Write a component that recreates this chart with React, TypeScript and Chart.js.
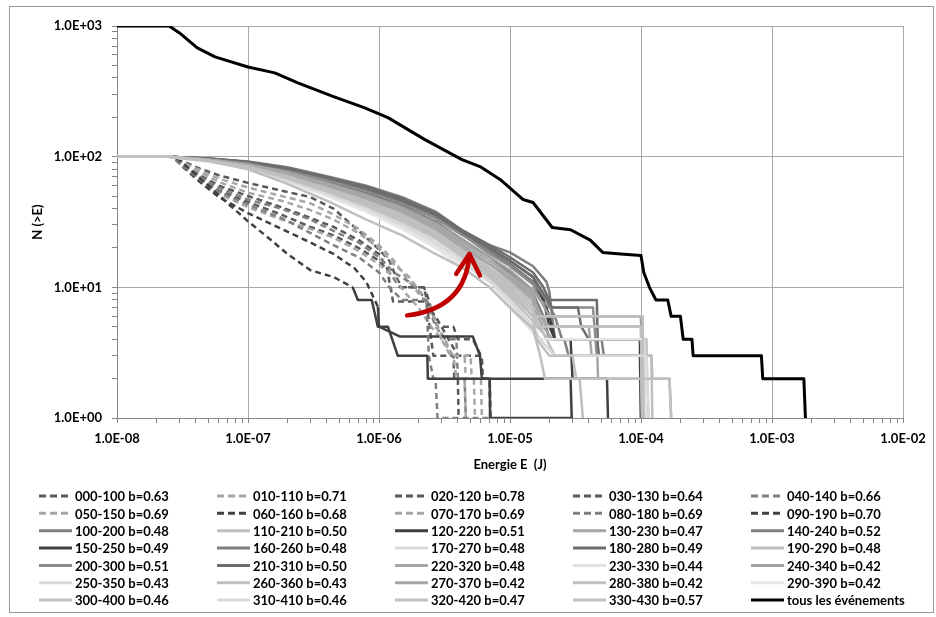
import React, { useEffect, useRef } from 'react';
import { Chart, registerables } from 'chart.js';

Chart.register(...registerables);

// ---------- axis ticks ----------
const X_DECADES = [1e-8, 1e-7, 1e-6, 1e-5, 1e-4, 1e-3, 1e-2];
const X_TICK_LABELS = ['1.0E-08', '1.0E-07', '1.0E-06', '1.0E-05', '1.0E-04', '1.0E-03', '1.0E-02'];
const Y_DECADES = [1, 10, 100, 1000];
const Y_TICK_LABELS = ['1.0E+00', '1.0E+01', '1.0E+02', '1.0E+03'];

const X_TITLE = 'Energie E  (J)';
const Y_TITLE = 'N (>E)';

// ---------- series labels (legend order) ----------
const SERIES_LABELS = [
  '000-100 b=0.63', '010-110 b=0.71', '020-120 b=0.78', '030-130 b=0.64', '040-140 b=0.66',
  '050-150 b=0.69', '060-160 b=0.68', '070-170 b=0.69', '080-180 b=0.69', '090-190 b=0.70',
  '100-200 b=0.48', '110-210 b=0.50', '120-220 b=0.51', '130-230 b=0.47', '140-240 b=0.52',
  '150-250 b=0.49', '160-260 b=0.48', '170-270 b=0.48', '180-280 b=0.49', '190-290 b=0.48',
  '200-300 b=0.51', '210-310 b=0.50', '220-320 b=0.48', '230-330 b=0.44', '240-340 b=0.42',
  '250-350 b=0.43', '260-360 b=0.43', '270-370 b=0.42', '280-380 b=0.42', '290-390 b=0.42',
  '300-400 b=0.46', '310-410 b=0.46', '320-420 b=0.47', '330-430 b=0.57', 'tous les événements',
];

// ---------- dashed windows: [E (J), N(>E)] ----------
const D000 = [[1e-8, 100], [2.5e-8, 100], [3.2e-8, 92], [4.3e-8, 81], [6e-8, 72], [1e-7, 63], [1.8e-7, 55], [3e-7, 49], [4.5e-7, 40], [6e-7, 31], [8e-7, 24], [1e-6, 19.5], [1.2e-6, 16], [1.35e-6, 12], [1.5e-6, 10], [2.2e-6, 10], [2.35e-6, 8.5], [2.6e-6, 6], [2.8e-6, 5], [3.7e-6, 5], [4e-6, 4], [5.2e-6, 4], [6e-6, 3], [6.1e-6, 2], [7e-6, 2], [7.1e-6, 1]];
const D010 = [[1e-8, 100], [2.5e-8, 100], [3.2e-8, 90], [4.3e-8, 79], [6e-8, 68], [1e-7, 58], [1.8e-7, 50], [3e-7, 44], [4.5e-7, 36], [7e-7, 28], [1e-6, 21], [1.3e-6, 16], [1.6e-6, 12], [2e-6, 9], [2.5e-6, 7], [2.8e-6, 5], [3.2e-6, 4], [3.6e-6, 3], [4.5e-6, 3], [4.6e-6, 2], [5.3e-6, 2], [5.4e-6, 1]];
const D020 = [[1e-8, 100], [2.6e-8, 100], [3.2e-8, 87], [4.3e-8, 72], [6e-8, 60], [1e-7, 50], [1.8e-7, 41], [3e-7, 34], [4.5e-7, 29], [7e-7, 23], [1e-6, 18], [1.15e-6, 14], [1.28e-6, 7.8], [2.3e-6, 7.8], [2.4e-6, 5.7], [2.5e-6, 4], [2.6e-6, 3], [3.7e-6, 3], [3.75e-6, 2], [4e-6, 2], [4.05e-6, 1]];
const D030 = [[1e-8, 100], [2.6e-8, 100], [3.2e-8, 85], [4.3e-8, 68], [6e-8, 55], [1e-7, 45], [1.8e-7, 36], [3e-7, 29], [4.5e-7, 25], [7e-7, 20], [1e-6, 16], [1.2e-6, 13], [1.45e-6, 10], [2.2e-6, 10], [2.4e-6, 7], [2.7e-6, 6], [3e-6, 5], [3.4e-6, 4], [4e-6, 3], [6.1e-6, 3], [6.2e-6, 2], [7e-6, 2], [7.05e-6, 1], [7.3e-6, 1]];
const D040 = [[1e-8, 100], [2.7e-8, 100], [3.2e-8, 86], [4.3e-8, 70], [6e-8, 58], [1e-7, 47], [1.8e-7, 40], [3e-7, 33], [4.5e-7, 27], [7e-7, 22], [1e-6, 17], [1.3e-6, 13], [1.7e-6, 11], [2.1e-6, 9], [2.4e-6, 7], [2.7e-6, 5], [3.2e-6, 4], [3.9e-6, 4], [4e-6, 2], [4.5e-6, 2], [4.6e-6, 1]];
const D050 = [[1e-8, 100], [2.6e-8, 100], [3.2e-8, 84], [4.3e-8, 66], [6e-8, 52], [1e-7, 41], [1.8e-7, 33], [3e-7, 28], [4.5e-7, 24], [7e-7, 19], [1e-6, 15], [1.3e-6, 12], [1.6e-6, 9], [2e-6, 7], [2.5e-6, 5], [3e-6, 4], [3.5e-6, 3], [5e-6, 3], [5.1e-6, 2], [6e-6, 2], [6.1e-6, 1]];
const D060 = [[1e-8, 100], [2.7e-8, 100], [3.2e-8, 83], [4.3e-8, 64], [6e-8, 49], [1e-7, 37], [1.8e-7, 28], [3e-7, 22], [4.5e-7, 18], [6.5e-7, 14], [8e-7, 11], [9.8e-7, 7.1], [1e-6, 5], [1.45e-6, 4.2], [5.2e-6, 4.2], [5.9e-6, 3], [6.1e-6, 2], [7e-6, 2], [7.05e-6, 1], [2.96e-5, 1]];
const D070 = [[1e-8, 100], [2.6e-8, 100], [3.2e-8, 88], [4.3e-8, 76], [6e-8, 64], [1e-7, 53], [1.8e-7, 46], [3e-7, 39], [4.5e-7, 33], [7e-7, 26], [1e-6, 20], [1.3e-6, 15], [1.7e-6, 12], [2.1e-6, 9], [2.6e-6, 6], [3e-6, 4], [3.7e-6, 3], [3.9e-6, 2], [4.5e-6, 2], [4.6e-6, 1]];
const D080 = [[1e-8, 100], [2.7e-8, 100], [3.2e-8, 84], [4.3e-8, 67], [6e-8, 54], [1e-7, 43], [1.8e-7, 34], [3e-7, 26], [4.5e-7, 21], [7e-7, 17], [1e-6, 13], [1.2e-6, 10], [1.5e-6, 8], [2.3e-6, 8], [2.35e-6, 5], [2.4e-6, 3], [2.6e-6, 2], [2.7e-6, 2], [2.8e-6, 1], [7e-6, 1]];
const D090 = [[1e-8, 100], [2.8e-8, 100], [3.5e-8, 82], [5e-8, 60], [7e-8, 44], [1e-7, 32], [1.5e-7, 23], [2e-7, 18], [3e-7, 13.5], [4.5e-7, 12], [6.3e-7, 10], [6.9e-7, 8], [8.8e-7, 8], [9.8e-7, 5], [1.17e-6, 5], [1.39e-6, 3], [2.34e-6, 3], [2.36e-6, 2], [2.9e-5, 2], [2.96e-5, 1]];

// ---------- solid windows: N(>E) at shared energies, then tail steps ----------
const SOLID_E = [1e-8, 2.5e-8, 5e-8, 1e-7, 2e-7, 4e-7, 8e-7, 1.5e-6, 2.7e-6, 4.4e-6, 7e-6, 1e-5, 1.5e-5];

const S100_N = [100, 100, 95, 88, 77, 64, 52, 42, 32, 23, 17, 13, 9];
const S100_TAIL = [[1.8e-5, 6], [2e-5, 4], [2.6e-5, 4], [2.8e-5, 3], [9.8e-5, 3], [1e-4, 1]];
const S110_N = [100, 100, 94, 86, 72, 59, 47, 37, 27, 20, 14, 11, 7.5];
const S110_TAIL = [[1.6e-5, 6], [1e-4, 6], [1.05e-4, 1]];
const S120_N = [100, 100, 97, 91, 81, 69, 57, 46, 36, 26, 20, 16, 12];
const S120_TAIL = [[1.8e-5, 8], [2e-5, 5], [2.2e-5, 4], [2.9e-5, 4], [3e-5, 2], [5.5e-5, 2], [5.6e-5, 1]];
const S130_N = [100, 100, 95, 87, 74, 61, 49, 39, 29, 21, 15, 12, 8.5];
const S130_TAIL = [[1.5e-5, 7], [1.8e-5, 5], [2.1e-5, 4], [4.6e-5, 4], [4.7e-5, 2], [1.05e-4, 2], [1.07e-4, 1]];
const S140_N = [100, 100, 97, 92, 83, 71, 60, 49, 38, 27, 21, 18.5, 14.5];
const S140_TAIL = [[1.9e-5, 11], [2e-5, 9.2], [2.1e-5, 6], [2.2e-5, 4], [4.6e-5, 4], [4.8e-5, 3], [1.05e-4, 3], [1.07e-4, 1]];
const S150_N = [100, 100, 96, 90, 79, 66, 54, 44, 34, 25, 19, 15, 11];
const S150_TAIL = [[1.8e-5, 8], [2e-5, 6], [2.2e-5, 4], [9.8e-5, 4], [1e-4, 1]];
const S160_N = [100, 100, 96, 90, 80, 68, 56, 45, 35, 25, 19, 15, 11];
const S160_TAIL = [[1.9e-5, 8], [2.2e-5, 6], [2.5e-5, 4], [5e-5, 4], [5.2e-5, 3], [1.02e-4, 3], [1.04e-4, 1]];
const S170_N = [100, 100, 93, 83, 68, 54, 42, 32, 23, 17, 12, 9, 6];
const S170_TAIL = [[1.02e-4, 6], [1.04e-4, 1]];
const S180_N = [100, 100, 97, 91, 82, 70, 59, 48, 37, 27, 21, 17, 13];
const S180_TAIL = [[1.8e-5, 10], [2e-5, 8], [4.6e-5, 8], [4.7e-5, 3], [1e-4, 3], [1.04e-4, 1]];
const S190_N = [100, 100, 94, 85, 72, 58, 46, 36, 26, 19, 14, 10.5, 7];
const S190_TAIL = [[1.6e-5, 5], [2e-5, 4], [1.1e-4, 4], [1.13e-4, 1]];
const S200_N = [100, 100, 96, 89, 79, 66, 54, 44, 34, 25, 18, 14.5, 10.5];
const S200_TAIL = [[1.7e-5, 8], [2e-5, 7], [4.3e-5, 7], [4.6e-5, 3], [1e-4, 3], [1.03e-4, 1]];
const S210_N = [100, 100, 96, 90, 81, 69, 57, 46, 36, 26, 20, 16, 12];
const S210_TAIL = [[1.8e-5, 9], [2.1e-5, 7], [3.3e-5, 7], [3.5e-5, 5], [4e-5, 4], [1e-4, 4], [1.03e-4, 1]];
const S220_N = [100, 100, 94, 86, 73, 60, 48, 38, 28, 20, 15, 11.5, 8];
const S220_TAIL = [[1.7e-5, 6], [2e-5, 5], [4e-5, 5], [4.2e-5, 3], [1.2e-4, 3], [1.22e-4, 2], [1.65e-4, 2], [1.7e-4, 1]];
const S230_N = [100, 100, 92, 81, 65, 51, 39, 29, 21, 15, 11, 7.5, 5];
const S230_TAIL = [[1.02e-4, 5], [1.05e-4, 1]];
const S240_N = [100, 100, 95, 88, 76, 63, 51, 41, 31, 23, 17, 13.5, 9.5];
const S240_TAIL = [[1.7e-5, 8], [2e-5, 6], [1e-4, 6], [1.02e-4, 1]];
const S250_N = [100, 100, 92, 82, 67, 53, 41, 31, 23, 16, 11.5, 8, 5];
const S250_TAIL = [[1e-4, 5], [1.02e-4, 1]];
const S260_N = [100, 100, 94, 85, 71, 57, 45, 35, 26, 19, 13.5, 10, 6.5];
const S260_TAIL = [[1.9e-5, 4], [2.2e-5, 3], [1.2e-4, 3], [1.22e-4, 1]];
const S270_N = [100, 100, 95, 87, 75, 62, 50, 40, 30, 22, 16, 12.5, 9];
const S270_TAIL = [[1.6e-5, 7], [1.9e-5, 5], [1e-4, 5], [1.03e-4, 1]];
const S280_N = [100, 100, 93, 84, 70, 56, 44, 34, 25, 18, 13, 9.5, 6];
const S280_TAIL = [[1.6e-5, 5], [1e-4, 5], [1.02e-4, 1]];
const S290_N = [100, 100, 92, 80, 64, 50, 38, 28, 20, 14, 10, 7, 4.5];
const S290_TAIL = [[1.7e-5, 4], [1.05e-4, 4], [1.1e-4, 1]];
const S300_N = [100, 100, 93, 84, 69, 55, 43, 33, 24, 18, 12.5, 9, 6];
const S300_TAIL = [[1.03e-4, 6], [1.05e-4, 1]];
const S310_N = [100, 100, 92, 82, 66, 52, 40, 30, 22, 16, 11, 8, 5];
const S310_TAIL = [[1.7e-5, 4], [2.2e-5, 3], [1.1e-4, 3], [1.15e-4, 1]];
const S320_N = [100, 100, 93, 83, 68, 54, 42, 32, 24, 17, 12, 8.5, 5.5];
const S320_TAIL = [[1.6e-5, 4], [2e-5, 3], [3e-5, 3], [3.2e-5, 2], [1.65e-4, 2], [1.7e-4, 1]];
const S330_N = [100, 100, 93, 80, 62, 46, 33, 25, 18, 14, 10, 7, 4.8];
const S330_TAIL = [[1.7e-5, 3], [1.85e-5, 2], [3.4e-5, 2], [3.6e-5, 1]];

// ---------- all events ----------
const ALL_EVENTS = [[1e-8, 1000], [2.5e-8, 1000], [3e-8, 885], [4.1e-8, 680], [5.6e-8, 580], [1e-7, 486], [1.6e-7, 438], [2.4e-7, 367], [4.5e-7, 288], [7.7e-7, 237], [1.17e-6, 199], [2.24e-6, 135], [4.3e-6, 95], [5.9e-6, 84], [8.4e-6, 67], [1.26e-5, 47], [1.5e-5, 44.6], [2.1e-5, 28.7], [2.9e-5, 27.6], [4.1e-5, 23], [5.1e-5, 18.5], [7e-5, 18], [1e-4, 17.5], [1.05e-4, 13], [1.16e-4, 10], [1.3e-4, 8], [1.6e-4, 8], [1.7e-4, 6], [2e-4, 6], [2.1e-4, 4], [2.45e-4, 4], [2.5e-4, 3], [8.3e-4, 3], [8.5e-4, 2], [1.75e-3, 2], [1.8e-3, 1]];

// ---------- annotation arrow (data coordinates) ----------
const ARROW_START = [1.64e-6, 6.1];
const ARROW_CTRL = [4.6e-6, 6.9];
const ARROW_TIP = [4.9e-6, 18];

// ---------- styles ----------
const SERIES_COLORS = [
  '#595959', '#a6a6a6', '#595959', '#595959', '#808080',
  '#a6a6a6', '#404040', '#a6a6a6', '#7f7f7f', '#404040',
  '#7f7f7f', '#bfbfbf', '#404040', '#a6a6a6', '#7f7f7f',
  '#404040', '#808080', '#d9d9d9', '#6d6d6d', '#bfbfbf',
  '#8c8c8c', '#6d6d6d', '#a6a6a6', '#e0e0e0', '#a0a0a0',
  '#d9d9d9', '#bfbfbf', '#a6a6a6', '#bfbfbf', '#e6e6e6',
  '#bfbfbf', '#d9d9d9', '#c0c0c0', '#bfbfbf', '#000000',
];
const DASHED_COUNT = 10;
const SOLID_TAIL_FROM: Record<number, number> = { 6: 9.7e-7, 9: 6.2e-7 };
const FONT_FAMILY = 'Lato, "Open Sans", sans-serif';

function solid(n: number[], tail: number[][]) {
  return SOLID_E.map((e, i) => [e, n[i]]).concat(tail);
}

const SERIES_DATA: number[][][] = [
  D000, D010, D020, D030, D040, D050, D060, D070, D080, D090,
  solid(S100_N, S100_TAIL), solid(S110_N, S110_TAIL), solid(S120_N, S120_TAIL), solid(S130_N, S130_TAIL), solid(S140_N, S140_TAIL),
  solid(S150_N, S150_TAIL), solid(S160_N, S160_TAIL), solid(S170_N, S170_TAIL), solid(S180_N, S180_TAIL), solid(S190_N, S190_TAIL),
  solid(S200_N, S200_TAIL), solid(S210_N, S210_TAIL), solid(S220_N, S220_TAIL), solid(S230_N, S230_TAIL), solid(S240_N, S240_TAIL),
  solid(S250_N, S250_TAIL), solid(S260_N, S260_TAIL), solid(S270_N, S270_TAIL), solid(S280_N, S280_TAIL), solid(S290_N, S290_TAIL),
  solid(S300_N, S300_TAIL), solid(S310_N, S310_TAIL), solid(S320_N, S320_TAIL), solid(S330_N, S330_TAIL),
  ALL_EVENTS,
];

function logTicks(decades: number[], labels: string[]) {
  const ticks: any[] = [];
  decades.forEach((d, i) => {
    ticks.push({ value: d, major: true, lbl: labels[i] });
    if (i < decades.length - 1) {
      for (let s = 2; s <= 9; s++) ticks.push({ value: d * s, major: false, lbl: '' });
    }
  });
  return ticks;
}

const framePlugin = {
  id: 'frame',
  beforeDraw(chart: any) {
    const { ctx, width, height } = chart;
    ctx.save();
    ctx.fillStyle = '#ffffff';
    ctx.fillRect(0, 0, width, height);
    ctx.strokeStyle = '#9a9a9a';
    ctx.lineWidth = 1;
    ctx.strokeRect(9.5, 6.5, 924, 606);
    ctx.restore();
  },
};

const arrowPlugin = {
  id: 'arrow',
  afterDatasetsDraw(chart: any) {
    const { ctx } = chart;
    const xs = chart.scales.x;
    const ys = chart.scales.y;
    const p = (v: number[]) => [xs.getPixelForValue(v[0]), ys.getPixelForValue(v[1])];
    const a = p(ARROW_START);
    const c = p(ARROW_CTRL);
    const t = p(ARROW_TIP);
    ctx.save();
    ctx.strokeStyle = '#c00000';
    ctx.lineWidth = 4.5;
    ctx.lineCap = 'round';
    ctx.lineJoin = 'round';
    ctx.beginPath();
    ctx.moveTo(a[0], a[1]);
    ctx.quadraticCurveTo(c[0], c[1], t[0], t[1]);
    ctx.stroke();
    const ang = Math.atan2(t[1] - c[1], t[0] - c[0]);
    const len = 24;
    const spread = 0.52;
    ctx.beginPath();
    ctx.moveTo(t[0] - len * Math.cos(ang - spread), t[1] - len * Math.sin(ang - spread));
    ctx.lineTo(t[0], t[1]);
    ctx.lineTo(t[0] - len * Math.cos(ang + spread), t[1] - len * Math.sin(ang + spread));
    ctx.stroke();
    ctx.restore();
  },
};

const legendPlugin = {
  id: 'customLegend',
  afterDraw(chart: any) {
    const { ctx } = chart;
    ctx.save();
    ctx.font = `bold 13px ${FONT_FAMILY}`;
    ctx.textBaseline = 'middle';
    ctx.textAlign = 'left';
    SERIES_LABELS.forEach((label, i) => {
      const col = i % 5;
      const row = Math.floor(i / 5);
      const x0 = 39 + col * 178;
      const y = 496 + row * 17.35;
      ctx.strokeStyle = SERIES_COLORS[i];
      ctx.lineWidth = 3;
      ctx.setLineDash(i < DASHED_COUNT ? [7, 4] : []);
      ctx.beginPath();
      ctx.moveTo(x0, y);
      ctx.lineTo(x0 + 33, y);
      ctx.stroke();
      ctx.setLineDash([]);
      ctx.fillStyle = '#000000';
      ctx.fillText(label, x0 + 36, y + 1);
    });
    ctx.restore();
  },
};

export default function App() {
  const canvasRef = useRef<HTMLCanvasElement | null>(null);

  useEffect(() => {
    if (!canvasRef.current) return;
    const n = SERIES_DATA.length;
    const datasets = SERIES_DATA.map((pts, i) => {
      const isBlack = i === n - 1;
      const dashed = i < DASHED_COUNT;
      const solidFrom = SOLID_TAIL_FROM[i];
      return {
        label: SERIES_LABELS[i],
        data: pts.map(([x, y]) => ({ x, y })),
        borderColor: SERIES_COLORS[i],
        backgroundColor: SERIES_COLORS[i],
        borderWidth: isBlack ? 3 : 2.5,
        borderDash: dashed ? [6, 4] : [],
        borderJoinStyle: 'round' as const,
        pointRadius: 0,
        pointHoverRadius: 0,
        tension: 0,
        fill: false,
        order: n - i,
        segment: solidFrom
          ? { borderDash: (ctx: any) => (ctx.p0.parsed.x >= solidFrom ? [] : undefined) }
          : undefined,
      };
    });

    const tickFont = { family: FONT_FAMILY, weight: 'bold' as const, size: 13 };

    const chart = new Chart(canvasRef.current, {
      type: 'line',
      data: { datasets },
      options: {
        animation: false,
        responsive: false,
        maintainAspectRatio: false,
        layout: { padding: { top: 26, right: 33, bottom: 142, left: 0 } },
        plugins: {
          legend: { display: false },
          tooltip: { enabled: false },
          title: { display: false },
        },
        scales: {
          x: {
            type: 'logarithmic',
            min: 1e-8,
            max: 1e-2,
            afterBuildTicks: (scale: any) => {
              scale.ticks = logTicks(X_DECADES, X_TICK_LABELS);
            },
            afterFit: (scale: any) => {
              scale.height = 57;
            },
            ticks: {
              autoSkip: false,
              maxRotation: 0,
              minRotation: 0,
              padding: 8,
              color: '#000000',
              font: tickFont,
              callback: (_v: any, i: number, ticks: any[]) => ticks[i].lbl,
            },
            grid: {
              color: (ctx: any) => (ctx.tick && ctx.tick.major ? '#a8a8a8' : 'rgba(0,0,0,0)'),
              tickColor: '#868686',
              tickLength: 5,
              lineWidth: 1,
            },
            border: { color: '#868686', width: 1 },
            title: {
              display: true,
              text: X_TITLE,
              color: '#000000',
              font: tickFont,
              padding: { top: 0, bottom: 2 },
            },
          },
          y: {
            type: 'logarithmic',
            min: 1,
            max: 1000,
            afterBuildTicks: (scale: any) => {
              scale.ticks = logTicks(Y_DECADES, Y_TICK_LABELS);
            },
            afterFit: (scale: any) => {
              scale.width = 117;
            },
            ticks: {
              autoSkip: false,
              padding: 10,
              color: '#000000',
              font: tickFont,
              callback: (_v: any, i: number, ticks: any[]) => ticks[i].lbl,
            },
            grid: {
              color: (ctx: any) => (ctx.tick && ctx.tick.major ? '#a8a8a8' : 'rgba(0,0,0,0)'),
              tickColor: '#868686',
              tickLength: 5,
              lineWidth: 1,
            },
            border: { color: '#868686', width: 1 },
            title: {
              display: true,
              text: Y_TITLE,
              color: '#000000',
              font: tickFont,
              padding: { top: 30, bottom: 0 },
            },
          },
        },
      },
      plugins: [framePlugin, arrowPlugin, legendPlugin],
    } as any);

    return () => chart.destroy();
  }, []);

  return (
    <div style={{ position: 'absolute', left: 0, top: 0, width: 936, height: 617, background: '#ffffff' }}>
      <canvas ref={canvasRef} width={936} height={617} style={{ display: 'block', width: 936, height: 617 }} />
    </div>
  );
}
